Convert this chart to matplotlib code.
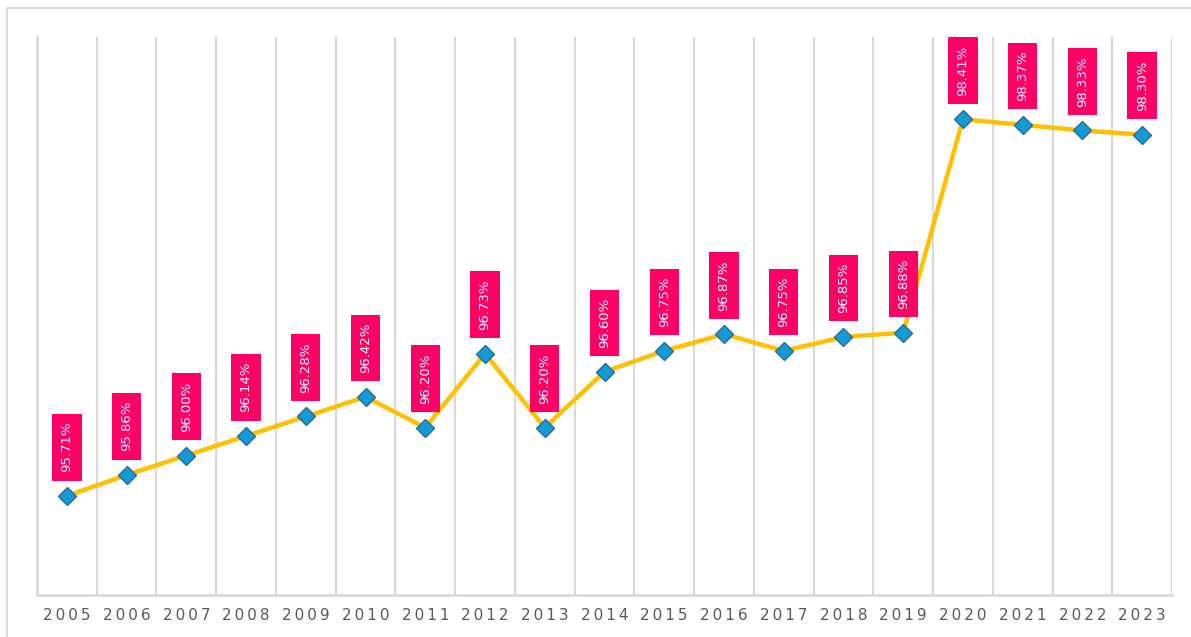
import matplotlib
matplotlib.use("Agg")
import matplotlib.pyplot as plt
from matplotlib.lines import Line2D

years = ['2005', '2006', '2007', '2008', '2009', '2010', '2011', '2012', '2013', '2014',
         '2015', '2016', '2017', '2018', '2019', '2020', '2021', '2022', '2023']
values = [95.71, 95.86, 96.00, 96.14, 96.28, 96.42, 96.20, 96.73, 96.20, 96.60,
          96.75, 96.87, 96.75, 96.85, 96.88, 98.41, 98.37, 98.33, 98.30]

grid_color = '#D9D9D9'

fig = plt.figure(figsize=(11.91, 6.37), dpi=100)
ax = fig.add_axes([37 / 1191, 42 / 637, (1172 - 37) / 1191, (595 - 37) / 637])

x = list(range(len(years)))
ax.plot(x, values, color='#FFC000', lw=3.2, zorder=3,
        marker='D', markersize=9, markerfacecolor='#129BD6',
        markeredgecolor='#2B6A8E', markeredgewidth=1.0)

# rotated value labels in pink boxes above each point
for xi, v in zip(x, values):
    ax.annotate(f'{v:.2f}%', (xi, v), xytext=(0, 17), textcoords='offset points',
                rotation=90, ha='center', va='bottom', color='white', fontsize=9.5,
                bbox=dict(boxstyle='square,pad=0.62', fc='#FF0066', ec='none'), zorder=4)

ax.set_xlim(-0.5, len(years) - 0.5)
ax.set_ylim(95.0, 99.0)
ax.set_yticks([])
ax.set_xticks(x)
ax.set_xticklabels(['\u2009'.join(y) for y in years], fontsize=11, color='#595959')
ax.tick_params(axis='x', length=0, pad=9)

for b in range(len(years)):
    ax.axvline(b + 0.5, color=grid_color, lw=1.5, zorder=1)

for side in ['top', 'right']:
    ax.spines[side].set_visible(False)
for side in ['left', 'bottom']:
    ax.spines[side].set_color(grid_color)
    ax.spines[side].set_linewidth(2)

# outer frame (top and left)
fig.add_artist(Line2D([7 / 1191, 1], [1 - 7.5 / 637, 1 - 7.5 / 637], color=grid_color, lw=1.5))
fig.add_artist(Line2D([7 / 1191, 7 / 1191], [0, 1 - 7.5 / 637], color=grid_color, lw=1.5))

fig.savefig('out.png', dpi=100)
